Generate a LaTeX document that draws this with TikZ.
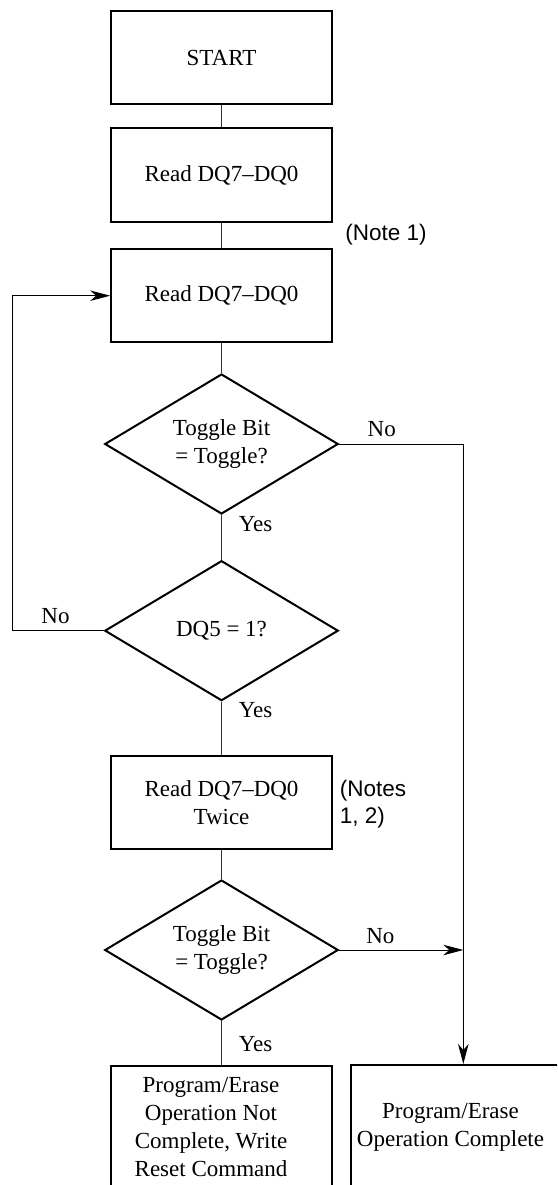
\documentclass[tikz,border=0pt]{standalone}
\usepackage{fontspec}
\setmainfont{Liberation Serif}
\newfontfamily\notefont{Liberation Sans}
\usetikzlibrary{shapes.geometric,arrows.meta}

\tikzset{
  txt/.style={font=\fontsize{23}{28}\selectfont, align=center, inner sep=0pt},
  stepbox/.style={draw, line width=2pt, minimum width=220.7pt, minimum height=93.3pt, inner sep=0pt, txt},
  decision/.style={draw, diamond, line width=2pt, minimum width=233.5pt, minimum height=140pt, aspect=1.67, inner sep=0pt, txt},
  link/.style={draw=black!80, line width=1.2pt},
  flow/.style={draw, line width=1pt, -{Stealth[length=20pt,width=10.5pt,inset=6pt]}},
  lbl/.style={txt},
  note/.style={font=\notefont\fontsize{22.5}{26.6}\selectfont, inner sep=0pt, align=left}
}

\begin{document}
\begin{tikzpicture}[x=1pt,y=-1pt]
  \useasboundingbox (0,0) rectangle (557,1185);
  \clip (0,0) rectangle (557,1185);

  % main column of steps
  \node[stepbox] (start) at (221.5,57.7) {START};
  \node[stepbox] (read1) at (221.5,175) {Read DQ7–DQ0};
  \node[stepbox] (read2) at (221.5,295.7) {Read DQ7–DQ0};
  \node[decision] (tog1) at (221.5,444) {Toggle Bit\\= Toggle?};
  \node[decision] (dq5) at (221.5,630.7) {DQ5 = 1?};
  \node[stepbox] (read3) at (221.5,802.5) {Read DQ7–DQ0\\Twice};
  \node[decision] (tog2) at (221.5,950) {Toggle Bit\\= Toggle?};

  % end states (running off the page edge)
  \node[draw, line width=2pt, minimum width=220.7pt, minimum height=134pt, inner sep=0pt] (fail) at (221.5,1133) {};
  \node[txt] (failtxt) at (211,1127) {Program/Erase\\Operation Not\\Complete, Write\\Reset Command};
  \node[draw, line width=2pt, minimum width=230pt, minimum height=135pt, inner sep=0pt] (done) at (465.7,1132.5) {};
  \node[txt] (donetxt) at (450.5,1127.5) {Program/Erase\\Operation Complete};

  % side notes
  \node[note, anchor=center] (n1) at (386,234.3) {(Note 1)};
  \node[note, anchor=west] (n2) at (339.6,804) {(Notes\\1, 2)};

  % routing points
  \coordinate (ltrack) at (12.4,0);
  \coordinate (rtrack) at (463.3,0);

  % straight connectors
  \draw[link] (start) -- (read1);
  \draw[link] (read1) -- (read2);
  \draw[link] (read2) -- (tog1.north);
  \draw[link] (tog1.south) -- (dq5.north);
  \draw[link] (dq5.south) -- (read3.north);
  \draw[link] (read3) -- (tog2.north);
  \draw[link] (tog2.south) -- (fail.north);

  % loops and exits
  \draw[flow] (dq5.west) -- (dq5.west -| ltrack) -- (ltrack |- read2.west) -- (read2.west);
  \draw[flow] (tog1.east) -- (tog1.east -| rtrack) -- (rtrack |- done.north);
  \draw[flow] (tog2.east) -- (tog2.east -| rtrack);

  % branch labels
  \node[lbl] (no1) at (381.7,429) {No};
  \node[lbl] (yes1) at (255.5,524) {Yes};
  \node[lbl] (no2) at (55.5,615.7) {No};
  \node[lbl] (yes2) at (255.5,710) {Yes};
  \node[lbl] (no3) at (380.4,935.7) {No};
  \node[lbl] (yes3) at (255.5,1044) {Yes};
\end{tikzpicture}
\end{document}
